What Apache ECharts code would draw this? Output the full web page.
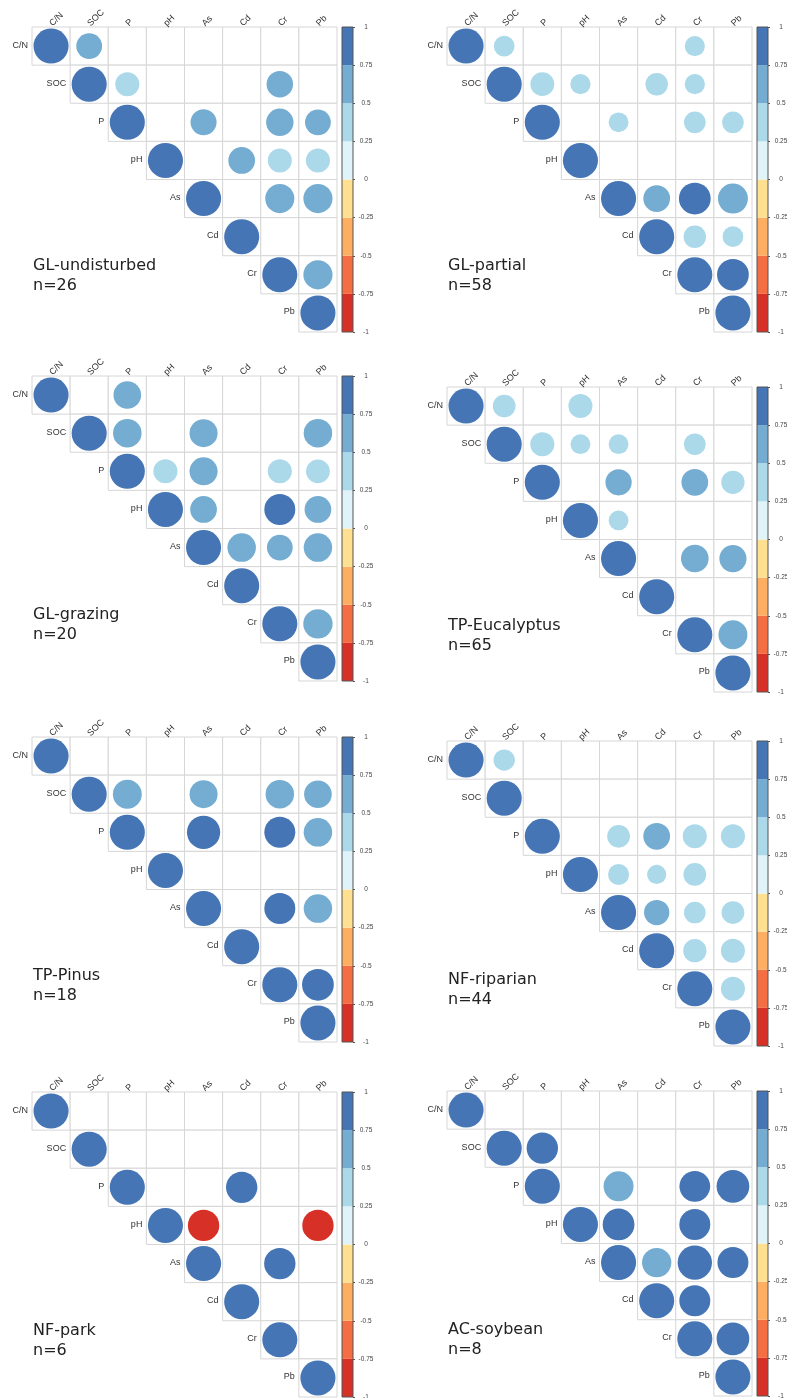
<!DOCTYPE html>
<html>
<head>
<meta charset="utf-8">
<script src="https://cdn.jsdelivr.net/npm/echarts@6/dist/echarts.min.js"></script>
<style>
  html, body { margin: 0; padding: 0; background: #ffffff; }
  #chart { width: 787px; height: 1398px; }
</style>
</head>
<body>
<div id="chart"></div>
<script>
// Soil variables, in matrix order
const variables = ['C/N', 'SOC', 'P', 'pH', 'As', 'Cd', 'Cr', 'Pb'];

// Land-use types and their sample counts
const siteNames = ['GL-undisturbed', 'GL-partial', 'GL-grazing', 'TP-Eucalyptus',
                   'TP-Pinus', 'NF-riparian', 'NF-park', 'AC-soybean'];
const sampleSizes = [26, 58, 20, 65, 18, 44, 6, 8];

// Colour scale: band limits and RdYlBu colours
const bandBreaks = [-1, -0.75, -0.5, -0.25, 0, 0.25, 0.5, 0.75, 1];
const bandColors = ['#D73027', '#F46D43', '#FDAE61', '#FEE090',
                    '#E0F3F8', '#ABD9E9', '#74ADD1', '#4575B4'];

// Spearman correlations, upper triangle row by row (row i starts at column i).
// null = not significant, left blank.
const glUndisturbed = [
  [1, 0.54, null, null, null, null, null, null],
  [1, 0.47, null, null, null, 0.57, null],
  [1, null, 0.55, null, 0.61, 0.54],
  [1, null, 0.58, 0.47, 0.47],
  [1, null, 0.69, 0.69],
  [1, null, null],
  [1, 0.69],
  [1]
];
const glPartial = [
  [1, 0.35, null, null, null, null, 0.33, null],
  [1, 0.46, 0.33, null, 0.41, 0.33, null],
  [1, null, 0.32, null, 0.38, 0.38],
  [1, null, null, null, null],
  [1, 0.58, 0.82, 0.73],
  [1, 0.41, 0.35],
  [1, 0.82],
  [1]
];
const glGrazing = [
  [1, null, 0.62, null, null, null, null, null],
  [1, 0.66, null, 0.64, null, null, 0.66],
  [1, 0.47, 0.64, null, 0.47, 0.46],
  [1, 0.58, null, 0.78, 0.58],
  [1, 0.66, 0.54, 0.66],
  [1, null, null],
  [1, 0.70],
  [1]
];
const tpEucalyptus = [
  [1, 0.42, null, 0.47, null, null, null, null],
  [1, 0.47, 0.32, 0.32, null, 0.38, null],
  [1, null, 0.56, null, 0.58, 0.44],
  [1, 0.32, null, null, null],
  [1, null, 0.62, 0.60],
  [1, null, null],
  [1, 0.68],
  [1]
];
const tpPinus = [
  [1, null, null, null, null, null, null, null],
  [1, 0.68, null, 0.64, null, 0.66, 0.62],
  [1, null, 0.90, null, 0.78, 0.66],
  [1, null, null, null, null],
  [1, null, 0.78, 0.66],
  [1, null, null],
  [1, 0.82],
  [1]
];
const nfRiparian = [
  [1, 0.37, null, null, null, null, null, null],
  [1, null, null, null, null, null, null],
  [1, null, 0.42, 0.58, 0.47, 0.47],
  [1, 0.36, 0.30, 0.42, null],
  [1, 0.52, 0.38, 0.42],
  [1, 0.44, 0.47],
  [1, 0.47],
  [1]
];
const nfPark = [
  [1, null, null, null, null, null, null, null],
  [1, null, null, null, null, null, null],
  [1, null, null, 0.80, null, null],
  [1, -0.80, null, null, -0.80],
  [1, null, 0.80, null],
  [1, null, null],
  [1, null],
  [1]
];
const acSoybean = [
  [1, null, null, null, null, null, null, null],
  [1, 0.80, null, null, null, null, null],
  [1, null, 0.73, null, 0.77, 0.87],
  [1, 0.82, null, 0.78, null],
  [1, 0.70, 0.96, 0.78],
  [1, 0.78, null],
  [1, 0.87],
  [1]
];

const matrices = [glUndisturbed, glPartial, glGrazing, tpEucalyptus,
                  tpPinus, nfRiparian, nfPark, acSoybean];

// ---- layout ----
const panelLeft = [32, 447, 32, 447, 32, 447, 32, 447];
const panelTop = [27, 27, 376, 387, 737, 741, 1092, 1091];
const SIDE = 305;               // matrix side in px
const CELL = SIDE / variables.length;
const BAR_GAP = 310;            // colour bar offset from matrix left
const BAR_W = 11;
const LABEL_FONT = 'Liberation Sans, Arial, sans-serif';

function colorFor(r) {
  let k = Math.floor((r - bandBreaks[0]) / (bandBreaks[1] - bandBreaks[0]));
  k = Math.max(0, Math.min(bandColors.length - 1, k));
  return bandColors[k];
}

const chart = echarts.init(document.getElementById('chart'), null, { renderer: 'canvas' });

const grids = [], xAxes = [], yAxes = [], series = [], titles = [];

matrices.forEach((m, p) => {
  const gi = grids.length;
  grids.push({ left: panelLeft[p], top: panelTop[p], width: SIDE, height: SIDE,
               outerBoundsMode: 'none', containLabel: false });
  grids.push({ left: panelLeft[p] + BAR_GAP, top: panelTop[p], width: BAR_W, height: SIDE,
               outerBoundsMode: 'none', containLabel: false });

  xAxes.push({ gridIndex: gi, type: 'category', data: variables, position: 'top', show: false });
  yAxes.push({ gridIndex: gi, type: 'category', data: variables, inverse: true, show: false });

  xAxes.push({ gridIndex: gi + 1, type: 'category', data: ['r'], show: false });
  yAxes.push({
    gridIndex: gi + 1, type: 'value', min: -1, max: 1, interval: 0.25, position: 'right',
    axisLine: { show: false }, splitLine: { show: false },
    axisTick: { show: true, length: 2, lineStyle: { color: '#555', width: 1 } },
    axisLabel: { fontSize: 6.5, color: '#444', align: 'center', margin: 13,
                 fontFamily: LABEL_FONT }
  });

  // upper-triangle cells; row names beside the diagonal, column names above the first row
  const cells = [];
  const points = [];
  m.forEach((row, i) => {
    row.forEach((r, k) => {
      const j = i + k;
      cells.push([j, i]);
      if (r !== null) points.push([j, i, r]);
    });
  });

  series.push({
    type: 'custom', xAxisIndex: gi, yAxisIndex: gi, z: 1, silent: true,
    data: cells,
    renderItem: (params, api) => {
      const col = api.value(0), row = api.value(1);
      const c = api.coord([col, row]);
      const s = api.size([1, 1]);
      const children = [{
        type: 'rect',
        shape: { x: c[0] - s[0] / 2, y: c[1] - s[1] / 2, width: s[0], height: s[1] },
        style: { fill: '#ffffff', stroke: '#d6d6d6', lineWidth: 1 }
      }];
      if (col === row) {
        children.push({
          type: 'text', x: c[0] - s[0] / 2 - 4, y: c[1] - 1,
          style: { text: variables[row], align: 'right', verticalAlign: 'middle',
                   fill: '#333', font: '9px ' + LABEL_FONT }
        });
      }
      if (row === 0) {
        children.push({
          type: 'text', x: c[0] + 3, y: c[1] - s[1] / 2 + 1, rotation: Math.PI / 4,
          style: { text: variables[col], align: 'left', verticalAlign: 'bottom',
                   fill: '#333', font: '9px ' + LABEL_FONT }
        });
      }
      return { type: 'group', children };
    }
  });

  series.push({
    type: 'scatter', xAxisIndex: gi, yAxisIndex: gi, z: 3, silent: true,
    data: points,
    encode: { x: 0, y: 1 },
    symbol: 'circle',
    symbolSize: (v) => CELL * 0.92 * Math.sqrt(Math.abs(v[2])),
    itemStyle: { color: (prm) => colorFor(prm.value[2]), opacity: 1 }
  });

  // colour bar bands
  const bands = bandColors.map((col, k) => [0, bandBreaks[k], bandBreaks[k + 1], k]);
  series.push({
    type: 'custom', xAxisIndex: gi + 1, yAxisIndex: gi + 1, z: 1, silent: true,
    data: bands,
    renderItem: (params, api) => {
      const lo = api.coord([0, api.value(1)]);
      const hi = api.coord([0, api.value(2)]);
      const w = api.size([1, 0])[0];
      return {
        type: 'rect',
        shape: { x: lo[0] - w / 2, y: hi[1], width: w, height: lo[1] - hi[1] },
        style: { fill: bandColors[api.value(3)] }
      };
    }
  });
  // colour bar frame
  series.push({
    type: 'custom', xAxisIndex: gi + 1, yAxisIndex: gi + 1, z: 2, silent: true,
    data: [[0, -1, 1]],
    renderItem: (params, api) => {
      const lo = api.coord([0, api.value(1)]);
      const hi = api.coord([0, api.value(2)]);
      const w = api.size([1, 0])[0];
      return {
        type: 'rect',
        shape: { x: lo[0] - w / 2, y: hi[1], width: w, height: lo[1] - hi[1] },
        style: { fill: 'none', stroke: '#555', lineWidth: 1 }
      };
    }
  });

  titles.push({
    text: siteNames[p] + '\nn=' + sampleSizes[p],
    left: panelLeft[p] + 1, top: panelTop[p] + 229, padding: 0,
    textStyle: { fontFamily: 'DejaVu Sans', fontSize: 16, fontWeight: 'normal',
                 color: '#222', lineHeight: 20 }
  });
});

chart.setOption({
  backgroundColor: '#ffffff',
  animation: false,
  title: titles,
  grid: grids,
  xAxis: xAxes,
  yAxis: yAxes,
  series: series
});
</script>
</body>
</html>
